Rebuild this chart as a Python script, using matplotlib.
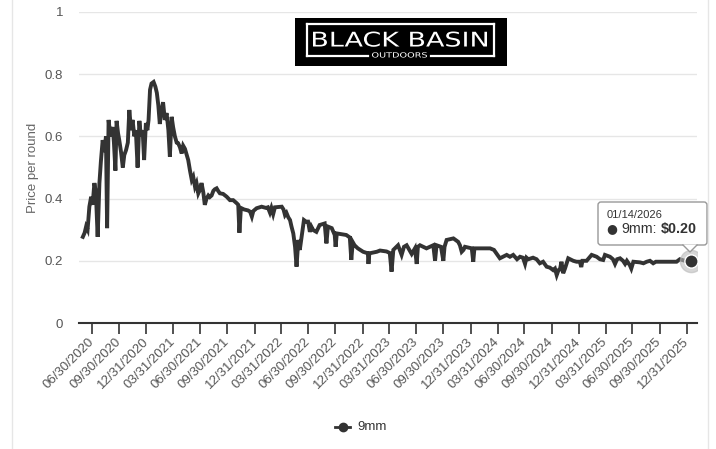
import matplotlib
matplotlib.use("Agg")
import matplotlib.pyplot as plt
from matplotlib.patches import FancyBboxPatch, Rectangle, Polygon, PathPatch
from matplotlib.textpath import TextPath
from matplotlib.font_manager import FontProperties
from matplotlib.transforms import Affine2D
import pandas as pd

plt.rcParams['font.family'] = ['Liberation Sans', 'DejaVu Sans']

series_name = "9mm"
y_label = "Price per round"
y_ticks = [0, 0.2, 0.4, 0.6, 0.8, 1]
y_tick_labels = ["0", "0.2", "0.4", "0.6", "0.8", "1"]
x_tick_dates = ["2020-06-30", "2020-09-30", "2020-12-31", "2021-03-31", "2021-06-30",
                "2021-09-30", "2021-12-31", "2022-03-31", "2022-06-30", "2022-09-30",
                "2022-12-31", "2023-03-31", "2023-06-30", "2023-09-30", "2023-12-31",
                "2024-03-31", "2024-06-30", "2024-09-30", "2024-12-31", "2025-03-31",
                "2025-06-30", "2025-09-30", "2025-12-31"]
tooltip_date = "01/14/2026"
tooltip_value = "$0.20"
logo_title = "BLACK BASIN"
logo_sub = "OUTDOORS"

dates = ["2020-05-30", "2020-06-05", "2020-06-10", "2020-06-15", "2020-06-21", "2020-06-27",
         "2020-07-02", "2020-07-08", "2020-07-13", "2020-07-19", "2020-07-25", "2020-07-30",
         "2020-08-05", "2020-08-11", "2020-08-16", "2020-08-20", "2020-08-25", "2020-08-31",
         "2020-09-08", "2020-09-12", "2020-09-17", "2020-09-21", "2020-09-26", "2020-09-30",
         "2020-10-06", "2020-10-12", "2020-10-17", "2020-10-23", "2020-10-29", "2020-11-03",
         "2020-11-09", "2020-11-14", "2020-11-20", "2020-11-25", "2020-12-01", "2020-12-07",
         "2020-12-12", "2020-12-18", "2020-12-23", "2020-12-29", "2021-01-03", "2021-01-07",
         "2021-01-12", "2021-01-17", "2021-01-24", "2021-01-30", "2021-02-04", "2021-02-09",
         "2021-02-14", "2021-02-19", "2021-02-25", "2021-03-03", "2021-03-09", "2021-03-15",
         "2021-03-20", "2021-03-26", "2021-03-31", "2021-04-06", "2021-04-12", "2021-04-17",
         "2021-04-23", "2021-04-29", "2021-05-04", "2021-05-10", "2021-05-16", "2021-05-21",
         "2021-05-27", "2021-06-02", "2021-06-07", "2021-06-13", "2021-06-18", "2021-06-24",
         "2021-06-30", "2021-07-05", "2021-07-11", "2021-07-16", "2021-07-22", "2021-07-28",
         "2021-08-02", "2021-08-08", "2021-08-14", "2021-08-19", "2021-08-25", "2021-08-30",
         "2021-09-05", "2021-09-16", "2021-09-28", "2021-10-09", "2021-10-20", "2021-11-01",
         "2021-11-06", "2021-11-10", "2021-11-15", "2021-11-26", "2021-12-09", "2021-12-16",
         "2021-12-22", "2021-12-27", "2022-01-07", "2022-01-24", "2022-02-08", "2022-02-14",
         "2022-02-21", "2022-02-26", "2022-03-04", "2022-03-10", "2022-04-02", "2022-04-08",
         "2022-04-13", "2022-04-18", "2022-04-24", "2022-04-30", "2022-05-05", "2022-05-11",
         "2022-05-17", "2022-05-22", "2022-05-28", "2022-06-02", "2022-06-08", "2022-06-16",
         "2022-06-23", "2022-06-30", "2022-07-06", "2022-07-11", "2022-07-17", "2022-07-28",
         "2022-08-08", "2022-08-25", "2022-08-31", "2022-09-05", "2022-09-18", "2022-09-28",
         "2022-10-01", "2022-10-05", "2022-10-25", "2022-11-06", "2022-11-18", "2022-11-23",
         "2022-11-28", "2022-12-04", "2022-12-15", "2023-01-02", "2023-01-18", "2023-01-20",
         "2023-01-23", "2023-02-17", "2023-02-28", "2023-03-22", "2023-04-02", "2023-04-08",
         "2023-04-14", "2023-04-30", "2023-05-12", "2023-05-20", "2023-05-29", "2023-06-15",
         "2023-06-26", "2023-07-02", "2023-07-06", "2023-07-13", "2023-08-04", "2023-08-27",
         "2023-09-02", "2023-09-07", "2023-09-22", "2023-09-30", "2023-10-04", "2023-10-11",
         "2023-11-03", "2023-11-19", "2023-11-25", "2023-12-01", "2023-12-07", "2023-12-12",
         "2024-01-04", "2024-01-09", "2024-01-13", "2024-03-06", "2024-03-19", "2024-04-08",
         "2024-05-01", "2024-05-12", "2024-05-23", "2024-06-05", "2024-06-15", "2024-06-25",
         "2024-07-02", "2024-07-07", "2024-07-13", "2024-07-29", "2024-08-10", "2024-08-21",
         "2024-09-01", "2024-09-13", "2024-09-24", "2024-10-05", "2024-10-11", "2024-10-17",
         "2024-10-23", "2024-10-28", "2024-11-02", "2024-11-08", "2024-11-14", "2024-11-19",
         "2024-11-25", "2024-12-12", "2024-12-23", "2025-01-03", "2025-01-08", "2025-01-12",
         "2025-01-26", "2025-02-12", "2025-03-01", "2025-03-12", "2025-03-23", "2025-03-29",
         "2025-04-15", "2025-04-25", "2025-05-02", "2025-05-09", "2025-05-19", "2025-05-29",
         "2025-06-05", "2025-06-11", "2025-06-21", "2025-06-26", "2025-07-03", "2025-07-25",
         "2025-08-06", "2025-08-17", "2025-08-28", "2025-09-08", "2025-09-17", "2025-10-01",
         "2025-10-29", "2025-11-26", "2025-12-07", "2025-12-24", "2026-01-14"]
prices = [0.277, 0.29, 0.31, 0.30, 0.374, 0.406,
          0.38, 0.45, 0.42, 0.277, 0.45, 0.52,
          0.588, 0.55, 0.60, 0.305, 0.653, 0.60,
          0.63, 0.58, 0.49, 0.65, 0.61, 0.588,
          0.55, 0.50, 0.54, 0.556, 0.58, 0.685,
          0.62, 0.653, 0.60, 0.62, 0.50, 0.65,
          0.60, 0.62, 0.524, 0.643, 0.62, 0.653,
          0.75, 0.77, 0.775, 0.76, 0.74, 0.70,
          0.64, 0.68, 0.71, 0.653, 0.675, 0.62,
          0.535, 0.663, 0.63, 0.60, 0.58, 0.578,
          0.565, 0.545, 0.57, 0.56, 0.54, 0.524,
          0.49, 0.46, 0.47, 0.438, 0.45, 0.417,
          0.43, 0.45, 0.42, 0.38, 0.40, 0.41,
          0.405, 0.41, 0.425, 0.43, 0.433, 0.425,
          0.417, 0.415, 0.406, 0.395, 0.395, 0.385,
          0.38, 0.29, 0.37, 0.365, 0.362, 0.358,
          0.342, 0.36, 0.369, 0.374, 0.37, 0.372,
          0.355, 0.37, 0.35, 0.372, 0.374, 0.365,
          0.347, 0.354, 0.34, 0.331, 0.31, 0.288,
          0.245, 0.181, 0.267, 0.235, 0.277, 0.331,
          0.326, 0.326, 0.293, 0.31, 0.299, 0.293,
          0.315, 0.32, 0.256, 0.31, 0.305, 0.283,
          0.245, 0.288, 0.285, 0.283, 0.275, 0.203,
          0.26, 0.25, 0.24, 0.229, 0.224, 0.19,
          0.224, 0.229, 0.233, 0.23, 0.225, 0.165,
          0.235, 0.25, 0.219, 0.245, 0.25, 0.222,
          0.24, 0.19, 0.245, 0.25, 0.24, 0.25,
          0.20, 0.25, 0.245, 0.20, 0.245, 0.267,
          0.272, 0.261, 0.25, 0.229, 0.235, 0.245,
          0.24, 0.197, 0.24, 0.24, 0.235, 0.208,
          0.219, 0.213, 0.219, 0.205, 0.213, 0.21,
          0.19, 0.21, 0.205, 0.21, 0.205, 0.192,
          0.197, 0.181, 0.178, 0.17, 0.175, 0.154,
          0.17, 0.172, 0.197, 0.16, 0.175, 0.19,
          0.208, 0.20, 0.197, 0.197, 0.18, 0.20,
          0.20, 0.219, 0.213, 0.205, 0.2026, 0.219,
          0.213, 0.205, 0.19, 0.205, 0.208, 0.20,
          0.19, 0.20, 0.186, 0.175, 0.197, 0.195,
          0.192, 0.197, 0.20, 0.192, 0.197, 0.197,
          0.197, 0.197, 0.205, 0.20, 0.20]

W, H = 716, 449
fig = plt.figure(figsize=(W / 100, H / 100), dpi=100)
fig.patch.set_facecolor("white")

def fx(px):
    return px / W

def fy(py):
    return 1 - py / H

ax_l, ax_r, ax_t, ax_b = 79, 697, 12, 323
ax = fig.add_axes([fx(ax_l), fy(ax_b), fx(ax_r) - fx(ax_l), fy(ax_t) - fy(ax_b)])

x = pd.to_datetime(dates)
ax.plot(x, prices, color="#333333", lw=2.8, solid_joinstyle="miter", zorder=3)

# last point highlight
ax.plot(x[-1:], prices[-1:], marker="o", ms=16, color="#bbbbbb", alpha=0.6, ls="none", zorder=4)
ax.plot(x[-1:], prices[-1:], marker="o", ms=9.5, mfc="#333333", mec="white", mew=1.0, ls="none", zorder=5)

ax.set_ylim(0, 1)
ax.set_xlim(pd.Timestamp("2020-06-30") - pd.Timedelta(days=44),
            pd.Timestamp("2020-06-30") + pd.Timedelta(days=2044))

ax.set_yticks(y_ticks)
ax.set_yticklabels(y_tick_labels)
ax.yaxis.grid(True, color="#e6e6e6", lw=1)
ax.set_axisbelow(True)
ax.tick_params(axis="y", length=0, pad=11.5, labelsize=9.5, labelcolor="#555555")

xt = pd.to_datetime(x_tick_dates)
ax.set_xticks(xt)
ax.set_xticklabels([d.strftime("%m/%d/%Y") for d in xt], rotation=45, ha="right",
                   va="center", rotation_mode="anchor")
ax.tick_params(axis="x", length=8, width=1.2, color="#333333", direction="out",
               pad=4, labelsize=9.5, labelcolor="#555555")

for s in ["left", "right", "top"]:
    ax.spines[s].set_visible(False)
ax.spines["bottom"].set_color("#333333")
ax.spines["bottom"].set_linewidth(1.5)

ax.set_ylabel(y_label, fontsize=9.5, color="#666666")
ax.yaxis.label.set_va("center")
ax.yaxis.set_label_coords(-(79 - 33) / (ax_r - ax_l), 0.5)

# overlay in pixel coordinates for decorations
ov = fig.add_axes([0, 0, 1, 1], zorder=10)
ov.set_xlim(0, W)
ov.set_ylim(H, 0)
ov.axis("off")
ov.patch.set_alpha(0)

# card border lines
ov.plot([12, 12], [0, H], color="#e6e6e6", lw=1)
ov.plot([708, 708], [0, H], color="#e6e6e6", lw=1)

# logo
def fitted_text(s, x0, x1, y_top, y_bot, weight="normal"):
    tp = TextPath((0, 0), s, size=10, prop=FontProperties(family="DejaVu Sans", weight=weight))
    bb = tp.get_extents()
    sx = (x1 - x0) / bb.width
    sy = (y_bot - y_top) / bb.height
    tr = Affine2D().translate(-bb.x0, -bb.y0).scale(sx, -sy).translate(x0, y_bot)
    path = tr.transform_path(tp)
    ov.add_patch(PathPatch(path, facecolor="white", edgecolor="none"))

ov.add_patch(Rectangle((295, 18), 212, 48, facecolor="black", edgecolor="none"))
lw_logo = 1.6
ov.plot([307, 494], [23.5, 23.5], color="white", lw=lw_logo)
ov.plot([307, 307], [23.5, 55.5], color="white", lw=lw_logo)
ov.plot([494, 494], [23.5, 55.5], color="white", lw=lw_logo)
ov.plot([307, 368], [55.5, 55.5], color="white", lw=lw_logo)
ov.plot([431, 494], [55.5, 55.5], color="white", lw=lw_logo)
fitted_text(logo_title, 313, 487, 31.5, 46.8)
fitted_text(logo_sub, 372, 427, 52.2, 57.6)

# tooltip
ov.add_patch(FancyBboxPatch((598, 202), 109, 43, boxstyle="round,pad=0,rounding_size=3",
                            facecolor="white", edgecolor="#999999", lw=1))
ov.add_patch(Polygon([[683, 244.5], [697, 244.5], [690, 252]], closed=True,
                     facecolor="white", edgecolor="none"))
ov.plot([683, 690, 697], [245, 252, 245], color="#999999", lw=1)
ov.text(607, 215, tooltip_date, fontsize=8, color="#333333", ha="left", va="center")
ov.text(612, 229, "●", fontsize=9, color="#333333", ha="center", va="center", family="DejaVu Sans")
ov.text(621, 229, series_name + ":", fontsize=10.3, color="#333333", ha="left", va="center")
ov.text(697, 229, tooltip_value, fontsize=10.3, color="#333333", ha="right", va="center",
        fontweight="bold")

# legend
ov.plot([335, 350], [427, 427], color="#333333", lw=2)
ov.plot([342.5], [427], marker="o", ms=6, color="#333333")
ov.text(357, 427, series_name, fontsize=9.5, color="#333333", ha="left", va="center")

fig.savefig("out.png", dpi=100)
